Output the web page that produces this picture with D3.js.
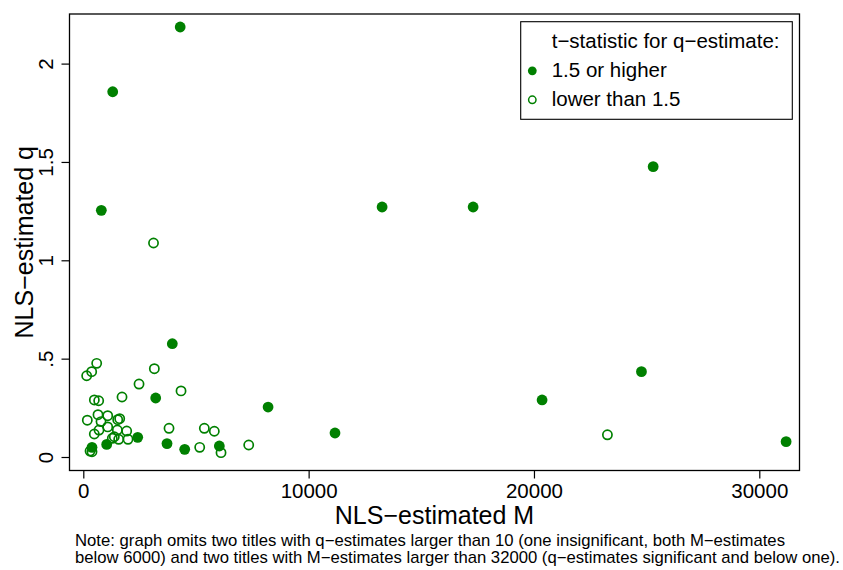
<!DOCTYPE html>
<html>
<head>
<meta charset="utf-8">
<script src="https://cdn.jsdelivr.net/npm/d3@7"></script>
<style>
  body { margin: 0; background: #fff; }
  text { font-family: "Liberation Sans", Arial, sans-serif; fill: #000; }
</style>
</head>
<body>
<svg id="graph"></svg>
<script>
// t-statistic 1.5 or higher (filled)
const mHigh = [4300, 1305, 800, 3950, 13260, 17300, 25290, 24770, 20360, 8200,
               11170, 31190, 3213, 2414, 1038, 386, 3715, 4500, 6037];
const qHigh = [2.186, 1.857, 1.254, 0.576, 1.271, 1.271, 1.476, 0.434, 0.290, 0.254,
               0.122, 0.078, 0.300, 0.100, 0.064, 0.049, 0.068, 0.039, 0.056];

// t-statistic lower than 1.5 (hollow)
const mLow = [594, 372, 150, 3153, 2473, 4337, 1718, 490, 683, 178,
              652, 1083, 786, 1527, 1615, 1083, 697, 488, 1510, 1926,
              1376, 1571, 1984, 1287, 3804, 5371, 5814, 5166, 6112, 7341,
              386, 300, 3116, 23260];
const qLow = [0.476, 0.434, 0.413, 0.449, 0.371, 0.336, 0.305, 0.290, 0.286, 0.187,
              0.215, 0.210, 0.180, 0.190, 0.195, 0.153, 0.137, 0.117, 0.137, 0.132,
              0.103, 0.090, 0.090, 0.095, 0.146, 0.146, 0.131, 0.049, 0.022, 0.061,
              0.027, 0.030, 1.088, 0.113];

const xTicks = [0, 10000, 20000, 30000];
const yTicks = [0, 0.5, 1, 1.5, 2];
const yTickLabels = ["0", ".5", "1", "1.5", "2"];

const legendTitle = "t\u2212statistic for q\u2212estimate:";
const legendLabels = ["1.5 or higher", "lower than 1.5"];
const noteLines = [
    "Note: graph omits two titles with q\u2212estimates larger than 10 (one insignificant, both M\u2212estimates",
    "below 6000) and two titles with M\u2212estimates larger than 32000 (q\u2212estimates significant and below one)."
];
const noteWidths = [710, 765];

const width = 843, height = 570;
const green = "#008000";
const box = {left: 69.5, top: 14, right: 799.5, bottom: 470.5};

const svg = d3.select("#graph")
    .attr("width", width)
    .attr("height", height);

const x = d3.scaleLinear().domain([0, 30000]).range([83.3, 759.3]);
const y = d3.scaleLinear().domain([0, 2]).range([457, 63.6]);

// plot frame
svg.append("rect")
    .attr("x", box.left).attr("y", box.top)
    .attr("width", box.right - box.left)
    .attr("height", box.bottom - box.top)
    .attr("fill", "none")
    .attr("stroke", "#000")
    .attr("stroke-width", 1.3);

// x axis
const xAxis = svg.append("g")
    .attr("transform", `translate(0,${box.bottom})`)
    .call(d3.axisBottom(x).tickValues(xTicks).tickFormat(d3.format("d"))
        .tickSize(8).tickPadding(5));
xAxis.select(".domain").remove();
xAxis.selectAll(".tick line").attr("stroke", "#000").attr("stroke-width", 1.2);
xAxis.selectAll(".tick text")
    .attr("font-size", 20.5)
    .attr("font-family", "Liberation Sans, Arial, sans-serif")
    .attr("fill", "#000");

// y axis
const yAxis = svg.append("g")
    .attr("transform", `translate(${box.left},0)`)
    .call(d3.axisLeft(y).tickValues(yTicks).tickFormat((d, i) => yTickLabels[i])
        .tickSize(8));
yAxis.select(".domain").remove();
yAxis.selectAll(".tick line").attr("stroke", "#000").attr("stroke-width", 1.2);
yAxis.selectAll(".tick text")
    .attr("x", null).attr("dy", null)
    .attr("transform", "translate(-17,0) rotate(-90)")
    .attr("text-anchor", "middle")
    .attr("font-size", 20.5)
    .attr("font-family", "Liberation Sans, Arial, sans-serif")
    .attr("fill", "#000");

// axis titles
svg.append("text")
    .attr("x", (box.left + box.right) / 2)
    .attr("y", 523.5)
    .attr("text-anchor", "middle")
    .attr("font-size", 25)
    .text("NLS\u2212estimated M");

svg.append("text")
    .attr("transform", `translate(33,${(box.top + box.bottom) / 2}) rotate(-90)`)
    .attr("text-anchor", "middle")
    .attr("font-size", 25)
    .text("NLS\u2212estimated q");

// points: hollow first, filled on top
svg.append("g")
    .selectAll("circle")
    .data(d3.range(mLow.length))
    .enter().append("circle")
    .attr("cx", i => x(mLow[i]))
    .attr("cy", i => y(qLow[i]))
    .attr("r", 4.6)
    .attr("fill", "none")
    .attr("stroke", green)
    .attr("stroke-width", 1.7);

svg.append("g")
    .selectAll("circle")
    .data(d3.range(mHigh.length))
    .enter().append("circle")
    .attr("cx", i => x(mHigh[i]))
    .attr("cy", i => y(qHigh[i]))
    .attr("r", 5.4)
    .attr("fill", green);

// legend
const legend = svg.append("g");
legend.append("rect")
    .attr("x", 520.7).attr("y", 21.7)
    .attr("width", 271.6).attr("height", 97.6)
    .attr("fill", "#fff")
    .attr("stroke", "#000")
    .attr("stroke-width", 1.1);
legend.append("text")
    .attr("x", 551.7).attr("y", 48.3)
    .attr("font-size", 20.5)
    .text(legendTitle);
legendLabels.forEach((label, i) => {
    const by = 77.3 + i * 29;
    if (i === 0) {
        legend.append("circle").attr("cx", 532.3).attr("cy", by - 6.5)
            .attr("r", 4.4).attr("fill", green);
    } else {
        legend.append("circle").attr("cx", 532.3).attr("cy", by - 6.5)
            .attr("r", 3.7).attr("fill", "none")
            .attr("stroke", green).attr("stroke-width", 1.5);
    }
    legend.append("text")
        .attr("x", 551.7).attr("y", by)
        .attr("font-size", 20.5)
        .text(label);
});

// note
svg.selectAll(".note")
    .data(noteLines)
    .enter().append("text")
    .attr("class", "note")
    .attr("x", 75)
    .attr("y", (d, i) => 546 + i * 16.5)
    .attr("font-size", 16.4)
    .attr("textLength", (d, i) => noteWidths[i])
    .attr("lengthAdjust", "spacingAndGlyphs")
    .text(d => d);
</script>
</body>
</html>
